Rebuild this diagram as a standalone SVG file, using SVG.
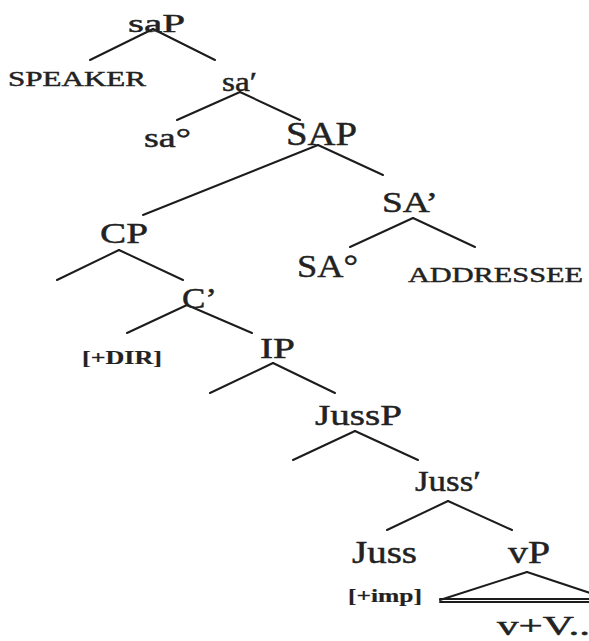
<svg xmlns="http://www.w3.org/2000/svg" width="589" height="641" viewBox="0 0 589 641">
<style>
text{font-family:"Liberation Serif","Times New Roman",serif;fill:#222;stroke:#222;stroke-width:0.45}
.b{font-weight:bold;stroke-width:0.2}
#edges line{stroke:#1c1c1c;stroke-width:2;stroke-linecap:round}
</style>
<rect width="589" height="641" fill="#fff"/>
<g id="edges">
<line x1="153" y1="29" x2="90" y2="60"/>
<line x1="153" y1="29" x2="215" y2="60"/>
<line x1="240" y1="92" x2="177" y2="120"/>
<line x1="240" y1="92" x2="300" y2="120"/>
<line x1="318" y1="145" x2="143" y2="215"/>
<line x1="318" y1="145" x2="383" y2="175"/>
<line x1="413" y1="218" x2="350" y2="247"/>
<line x1="413" y1="218" x2="475" y2="247"/>
<line x1="119" y1="250" x2="57" y2="280"/>
<line x1="119" y1="250" x2="183" y2="280"/>
<line x1="187" y1="305" x2="127" y2="333"/>
<line x1="187" y1="305" x2="252" y2="333"/>
<line x1="273" y1="363" x2="210" y2="393"/>
<line x1="273" y1="363" x2="335" y2="393"/>
<line x1="355" y1="431" x2="293" y2="460"/>
<line x1="355" y1="431" x2="418" y2="460"/>
<line x1="448" y1="501" x2="387" y2="530"/>
<line x1="448" y1="501" x2="512" y2="530"/>
<line x1="527" y1="572" x2="440" y2="600"/>
<line x1="527" y1="572" x2="614" y2="601"/>
<line x1="440" y1="599" x2="600" y2="599"/>
<line x1="440" y1="602" x2="600" y2="602"/>
</g>
<g id="saP"><text x="128" y="32" font-size="26" textLength="57" lengthAdjust="spacingAndGlyphs">saP</text></g>
<g id="speaker"><text x="8" y="86" font-size="21" textLength="138" lengthAdjust="spacingAndGlyphs">SPEAKER</text></g>
<g id="sa-bar"><text x="222" y="91" font-size="27" textLength="35" lengthAdjust="spacingAndGlyphs">sa′</text></g>
<g id="sa-head"><text x="144" y="147" font-size="27" textLength="47" lengthAdjust="spacingAndGlyphs">sa°</text></g>
<g id="SAP"><text x="286" y="145" font-size="33" textLength="71" lengthAdjust="spacingAndGlyphs">SAP</text></g>
<g id="SA-bar"><text x="382" y="212" font-size="30" textLength="56" lengthAdjust="spacingAndGlyphs">SA’</text></g>
<g id="SA-head"><text x="297" y="277" font-size="32" textLength="61" lengthAdjust="spacingAndGlyphs">SA°</text></g>
<g id="addressee"><text x="408" y="282" font-size="22" textLength="175" lengthAdjust="spacingAndGlyphs">ADDRESSEE</text></g>
<g id="CP"><text x="100" y="243" font-size="30" textLength="48" lengthAdjust="spacingAndGlyphs">CP</text></g>
<g id="C-bar"><text x="182" y="308" font-size="30" textLength="35" lengthAdjust="spacingAndGlyphs">C’</text></g>
<g id="dir"><text class="b" x="82" y="364" font-size="19" textLength="80" lengthAdjust="spacingAndGlyphs">[+DIR]</text></g>
<g id="IP"><text x="260" y="358" font-size="30" textLength="35" lengthAdjust="spacingAndGlyphs">IP</text></g>
<g id="JussP"><text x="315" y="425" font-size="30" textLength="87" lengthAdjust="spacingAndGlyphs">JussP</text></g>
<g id="Juss-bar"><text x="415" y="491" font-size="30" textLength="66" lengthAdjust="spacingAndGlyphs">Juss′</text></g>
<g id="Juss"><text x="352" y="563" font-size="31" textLength="65" lengthAdjust="spacingAndGlyphs">Juss</text></g>
<g id="imp"><text class="b" x="348" y="602" font-size="19" textLength="74" lengthAdjust="spacingAndGlyphs">[+imp]</text></g>
<g id="vP"><text x="508" y="563" font-size="31" textLength="42" lengthAdjust="spacingAndGlyphs">vP</text></g>
<g id="vV"><text x="497" y="635" font-size="27" textLength="93" lengthAdjust="spacingAndGlyphs">v+V..</text></g>
</svg>
